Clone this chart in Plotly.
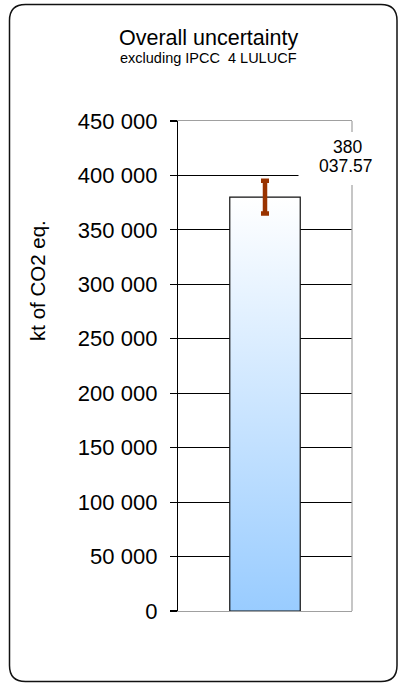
import plotly.graph_objects as go

# ---- data ----
categories = ["Overall uncertainty"]
values = [380037.57]
uncertainty = [15000]
label_lines = ["380", "037.57"]
y_ticks = [0, 50000, 100000, 150000, 200000, 250000, 300000, 350000, 400000, 450000]

# ---- layout geometry (page pixels) ----
W, H = 400, 684
PL, PR, PT, PB = 178, 352, 121, 611


def px(x):
    return (x - PL) / (PR - PL)


def py(y):
    return (PB - y) / (PB - PT)


FONT = "Liberation Sans, Arial, sans-serif"
bar_w = 0.405
xc = 0

fig = go.Figure()

# gradient-filled bar drawn as a polygon through the axes
v = values[0]
fig.add_trace(go.Scatter(
    x=[xc - bar_w / 2, xc - bar_w / 2, xc + bar_w / 2, xc + bar_w / 2, xc - bar_w / 2],
    y=[0, v, v, 0, 0],
    mode="lines",
    fill="toself",
    fillgradient=dict(type="vertical", colorscale=[[0, "#99ccff"], [1, "#ffffff"]]),
    line=dict(color="#111111", width=1.2),
    hoverinfo="skip",
    showlegend=False,
    name=categories[0],
))

# error bar
fig.add_trace(go.Scatter(
    x=[xc], y=values,
    mode="markers",
    marker=dict(size=1, color="rgba(0,0,0,0)"),
    error_y=dict(type="data", array=uncertainty, visible=True,
                 color="#993300", thickness=4.5, width=4),
    showlegend=False,
    hoverinfo="skip",
))

annotations = [
    dict(text="Overall uncertainty", x=px(208), y=py(38), xref="paper", yref="paper",
         showarrow=False, font=dict(family=FONT, size=21.5, color="black"),
         xanchor="center", yanchor="middle"),
    dict(text="excluding IPCC  4 LULUCF", x=px(208), y=py(58.5), xref="paper", yref="paper",
         showarrow=False, font=dict(family=FONT, size=14.5, color="black"),
         xanchor="center", yanchor="middle"),
    dict(text="kt of CO2 eq.", x=px(37), y=py(281), xref="paper", yref="paper",
         showarrow=False, textangle=-90, font=dict(family=FONT, size=20.5, color="black"),
         xanchor="center", yanchor="middle"),
    dict(text=label_lines[0], x=px(347), y=v, xref="paper", yref="y",
         yshift=50, showarrow=False,
         font=dict(family=FONT, size=17.5, color="black"),
         xanchor="center", yanchor="middle"),
    dict(text=label_lines[1], x=px(346), y=v, xref="paper", yref="y",
         yshift=31, showarrow=False,
         font=dict(family=FONT, size=17.5, color="black"),
         xanchor="center", yanchor="middle"),
]

# rounded outer border
x0, x1, y0, y1, r = 9.5, 397, 4.5, 681.5, 16
path = (
    f"M {px(x0 + r)},{py(y0)} L {px(x1 - r)},{py(y0)} "
    f"Q {px(x1)},{py(y0)} {px(x1)},{py(y0 + r)} "
    f"L {px(x1)},{py(y1 - r)} Q {px(x1)},{py(y1)} {px(x1 - r)},{py(y1)} "
    f"L {px(x0 + r)},{py(y1)} Q {px(x0)},{py(y1)} {px(x0)},{py(y1 - r)} "
    f"L {px(x0)},{py(y0 + r)} Q {px(x0)},{py(y0)} {px(x0 + r)},{py(y0)} Z"
)
shapes = [
    dict(type="path", path=path, xref="paper", yref="paper",
         line=dict(color="#111111", width=1.5), layer="above"),
    dict(type="line", x0=1, x1=1, y0=0, y1=1, xref="paper", yref="paper",
         line=dict(color="#a0a0a0", width=1.2), layer="above"),
    # white box behind the data label
    dict(type="rect", x0=px(298.5), x1=px(395), y0=py(185), y1=py(132),
         xref="paper", yref="paper", fillcolor="white",
         line=dict(width=0), layer="above"),
]

fig.update_layout(
    width=W, height=H,
    margin=dict(l=PL, r=W - PR, t=PT, b=H - PB, pad=0),
    paper_bgcolor="white", plot_bgcolor="white",
    separators=". ",
    showlegend=False,
    annotations=annotations,
    shapes=shapes,
    font=dict(family=FONT, color="black"),
    xaxis=dict(range=[-0.5, 0.5], showgrid=False, zeroline=False,
               showticklabels=False, ticks="", showline=True,
               linecolor="#a0a0a0", linewidth=1.2, mirror=True,
               layer="below traces", fixedrange=True),
    yaxis=dict(range=[0, 450000], tickvals=y_ticks, tickformat=",d",
               showgrid=True, gridcolor="#000000", gridwidth=1,
               zeroline=False, showline=True, linecolor="#000000", linewidth=1.2,
               ticks="outside", ticklen=7, tickcolor="#000000", tickwidth=1.2,
               tickfont=dict(family=FONT, size=22, color="black"),
               ticklabelstandoff=8,
               layer="below traces", fixedrange=True),
)

fig.write_html(
    "out.html",
    config={"displayModeBar": False, "staticPlot": True},
    post_script="document.body.style.margin='0';document.body.style.overflow='hidden';",
)
